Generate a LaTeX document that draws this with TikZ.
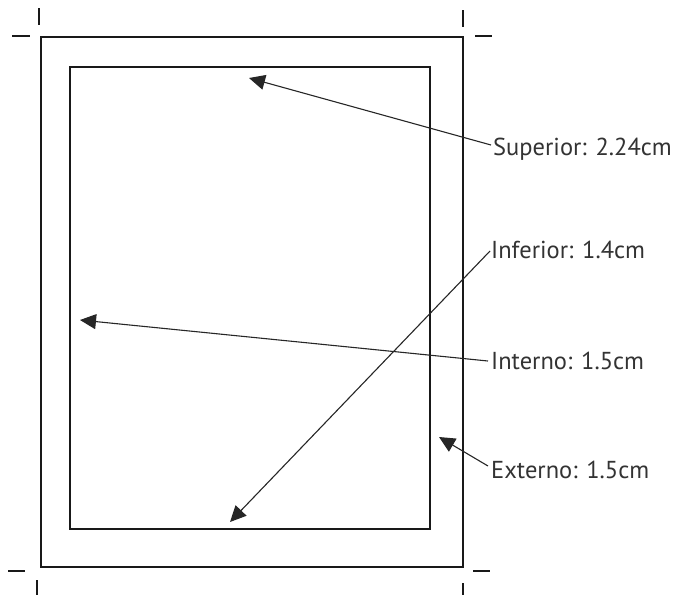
\documentclass[tikz,border=0pt]{standalone}
\usepackage{fontspec}
\setmainfont{PT Sans}
\usetikzlibrary{arrows.meta}
\tikzset{
  frame/.style={line width=1.8pt, draw=black!90},
  crop/.style={line width=1.8pt, draw=black!90},
  leader/.style={line width=1.1pt, draw=black!85, -{Triangle[length=16pt,width=15pt]}},
  lbl/.style={anchor=base west, inner sep=0pt, font=\fontsize{24.5}{28}\selectfont, text=black!80}
}
\begin{document}
\begin{tikzpicture}[x=1pt,y=-1pt]
\useasboundingbox (0,0) rectangle (682,595);
% page frames
\coordinate (o1) at (41,37);
\coordinate (o2) at (463,567);
\coordinate (i1) at (70,67);
\coordinate (i2) at (430,529);
\draw[frame] (o1) rectangle (o2);
\draw[frame] (i1) rectangle (i2);
% crop marks
\draw[crop] (39,8) -- (39,25);
\draw[crop] (12,36) -- (30,36);
\draw[crop] (463,10) -- (463,27);
\draw[crop] (475,36) -- (492,36);
\draw[crop] (8,571) -- (25,571);
\draw[crop] (37,580) -- (37,595);
\draw[crop] (473,571) -- (490,571);
\draw[crop] (463,583) -- (463,595);
% labels
\node[lbl] (sup) at (493,155) {Superior: 2.24cm};
\node[lbl] (inf) at (491,258) {Inferior: 1.4cm};
\node[lbl] (int) at (491,369) {Interno: 1.5cm};
\node[lbl] (ext) at (491,478) {Externo: 1.5cm};
% leader start points
\coordinate (sS) at (491,145);
\coordinate (sI) at (490,251);
\coordinate (sN) at (488,361);
\coordinate (sE) at (488,466);
% arrow tips
\coordinate (tS) at (249,78);
\coordinate (tI) at (230,522);
\coordinate (tN) at (80,320);
\coordinate (tE) at (439,437);
\draw[leader] (sS) -- (tS);
\draw[leader] (sI) -- (tI);
\draw[leader] (sN) -- (tN);
\draw[leader] (sE) -- (tE);
\end{tikzpicture}
\end{document}
